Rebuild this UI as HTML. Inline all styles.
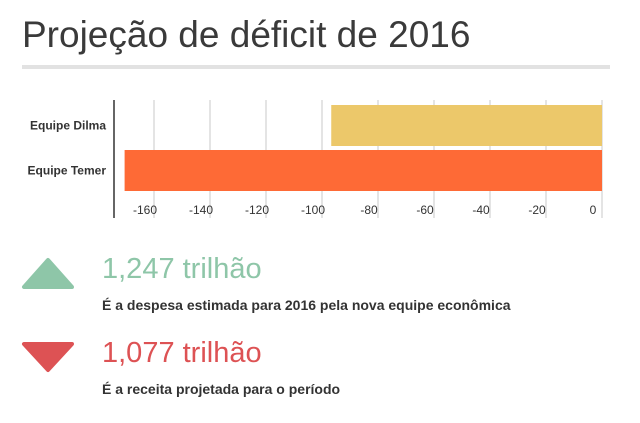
<!DOCTYPE html>
<html><head><meta charset="utf-8"><style>
body{margin:0;width:640px;height:423px;background:#fff;font-family:"Liberation Sans",sans-serif;overflow:hidden;position:relative}
.t{position:absolute;left:22px;top:14px;font-size:37px;color:#3a3a3a;margin:0;font-weight:normal}
.rule{position:absolute;left:22px;top:65px;width:588px;height:4px;background:#e2e2e2}
.big{position:absolute;left:102px;font-size:29px}
.sub{position:absolute;left:102px;font-size:14px;font-weight:bold;color:#333}
</style></head><body>
<h1 class="t">Projeção de déficit de 2016</h1>
<div class="rule"></div>
<svg id="chart" width="640" height="230" style="position:absolute;left:0;top:0"></svg>
<svg width="60" height="40" style="position:absolute;left:18px;top:254px"><polygon points="6,33 54,33 30,6" fill="#8ec6a8" stroke="#8ec6a8" stroke-width="4" stroke-linejoin="round"/></svg>
<div class="big" style="top:253px;color:#8ec6a8">1,247 trilhão</div>
<div class="sub" style="top:297px">É a despesa estimada para 2016 pela nova equipe econômica</div>
<svg width="60" height="40" style="position:absolute;left:18px;top:337px"><polygon points="6,7 54,7 30,33" fill="#dd5254" stroke="#dd5254" stroke-width="4" stroke-linejoin="round"/></svg>
<div class="big" style="top:337px;color:#dd5254">1,077 trilhão</div>
<div class="sub" style="top:381px">É a receita projetada para o período</div>
<script>
const categories=["Equipe Dilma","Equipe Temer"];
const values=[-96.7,-170.5];
const colors=["#ecc86a","#fe6a36"];
const ticks=[-160,-140,-120,-100,-80,-60,-40,-20,0];
const svg=document.getElementById('chart');
const NS='http://www.w3.org/2000/svg';
const x=v=>602+v*2.8;
const rowTop=[105,150],rowH=41;
function mk(t,a){const e=document.createElementNS(NS,t);for(const k in a)e.setAttribute(k,a[k]);svg.appendChild(e);return e;}
ticks.forEach(t=>{
const g=mk('line',{x1:x(t),x2:x(t),y1:100,y2:218,stroke:'#c8c8c8','stroke-width':1});


const l=mk('text',{x:x(t)-9,y:214,'text-anchor':'middle','font-size':'12','fill':'#333'});
l.textContent=t;


});
categories.forEach((c,i)=>{
const v=values[i];
const r=mk('rect',{x:x(v),y:rowTop[i],width:x(0)-x(v),height:rowH,fill:colors[i]});


const l=mk('text',{x:106,y:rowTop[i]+rowH/2+4,'text-anchor':'end','font-size':'12','font-weight':'bold','fill':'#333'});
l.textContent=c;


});
const ax=mk('line',{x1:114,x2:114,y1:100,y2:218,stroke:'#333','stroke-width':1.5});


</script>
</body></html>
